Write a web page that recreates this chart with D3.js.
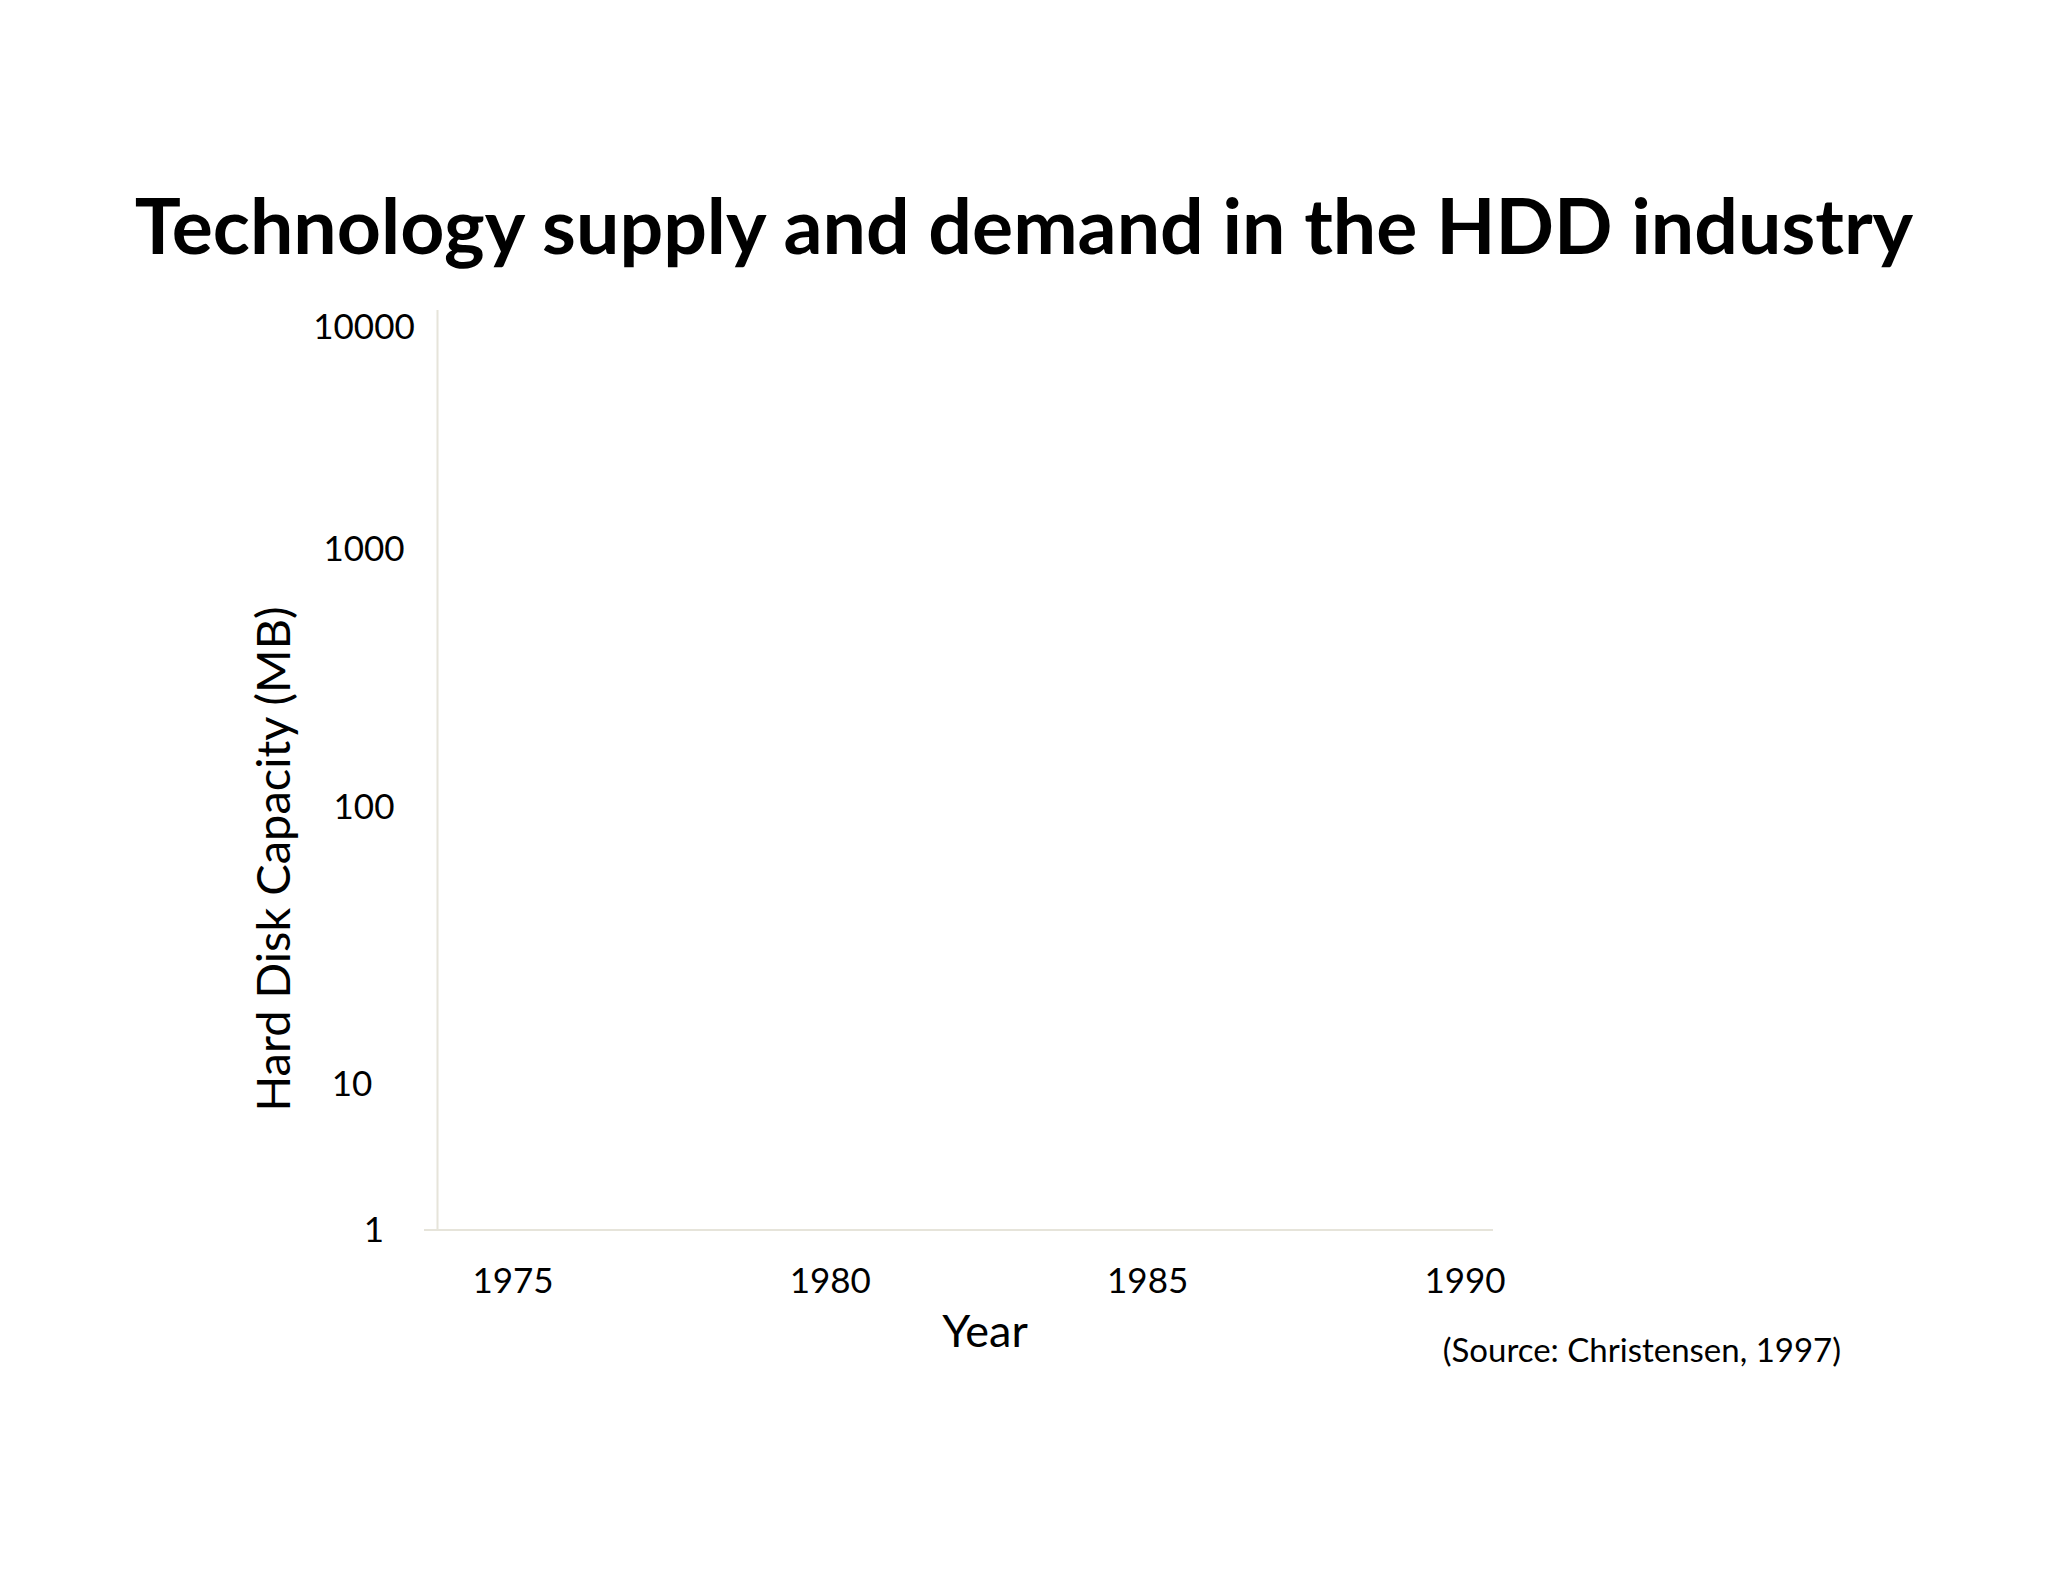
<!DOCTYPE html><html><head><meta charset="utf-8">
<script src="https://cdn.jsdelivr.net/npm/d3@7"></script>
<style>body{margin:0;background:#fff}svg{font-family:Lato,"Open Sans",sans-serif}</style></head><body>
<svg id="c" width="2048" height="1582"></svg>
<script>
const title = "Technology supply and demand in the HDD industry";
const yTicks = [1, 10, 100, 1000, 10000];
const xTicks = [1975, 1980, 1985, 1990];
const svg = d3.select("#c");
const y = d3.scaleLog().domain(yTicks).range([1230, 1084, 807, 548.5, 326.5]);
const x = d3.scaleLinear().domain([1975, 1990]).range([513, 1465]);
svg.append("text").attr("x",1024).attr("y",254).attr("text-anchor","middle")
  .attr("font-size",77).attr("font-weight","bold").text(title);
const axC="#e6e4da";
svg.append("line").attr("x1",437.5).attr("x2",437.5).attr("y1",310).attr("y2",1230).attr("stroke",axC).attr("stroke-width",2);
svg.append("line").attr("x1",424).attr("x2",1493).attr("y1",y(1)).attr("y2",y(1)).attr("stroke",axC).attr("stroke-width",2);
svg.selectAll(".yt").data(yTicks).join("text").attr("x",d=>d===1?374:(d===10?352:364)).attr("y",d=>y(d)).attr("dy","0.35em")
  .attr("text-anchor","middle").attr("font-size",35).text(d=>d);
svg.selectAll(".xt").data(xTicks).join("text").attr("x",d=>x(d)).attr("y",1281).attr("dy","0.35em")
  .attr("text-anchor","middle").attr("font-size",35).text(d=>d);
svg.append("text").attr("x",985).attr("y",1331).attr("dy","0.35em").attr("text-anchor","middle").attr("font-size",45).text("Year");
svg.append("text").attr("transform","translate(274,859) rotate(-90)").attr("dy","0.35em").attr("text-anchor","middle").attr("font-size",47).text("Hard Disk Capacity (MB)");
svg.append("text").attr("x",1841).attr("y",1350).attr("dy","0.35em").attr("text-anchor","end").attr("font-size",33).text("(Source: Christensen, 1997)");
</script></body></html>
